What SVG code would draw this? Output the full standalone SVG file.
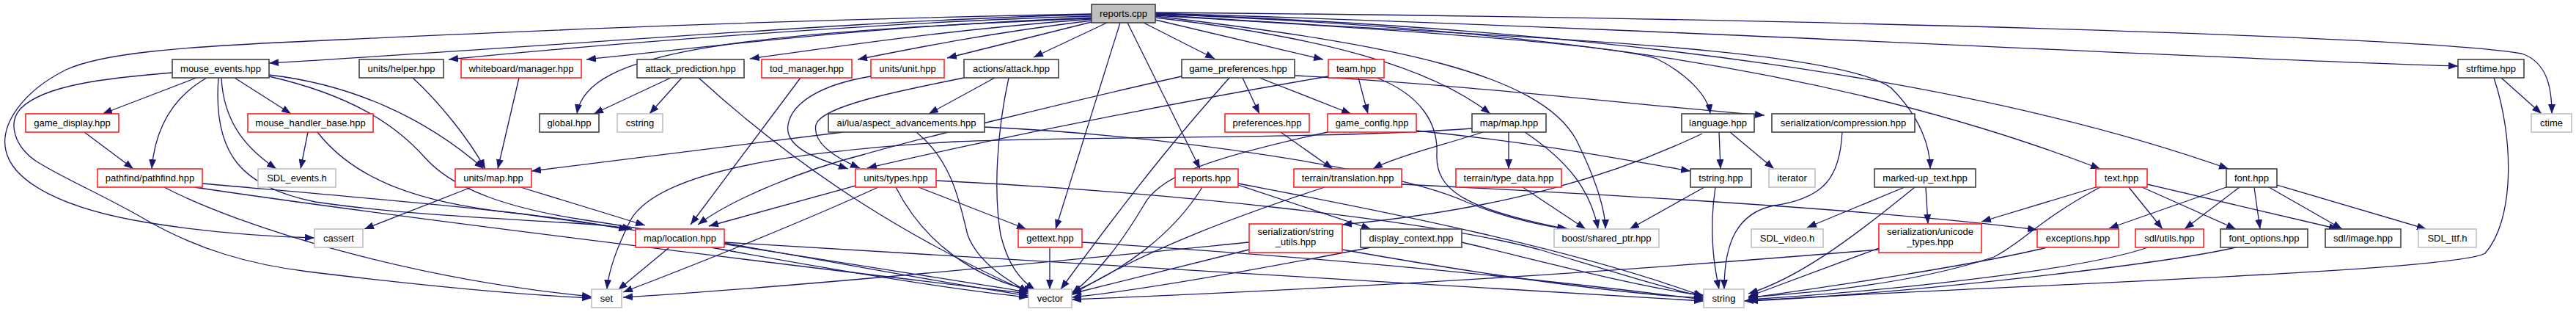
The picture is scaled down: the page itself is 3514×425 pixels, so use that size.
<svg xmlns="http://www.w3.org/2000/svg" width="3514" height="425" viewBox="0 0 3514 425">
<style>
.e{fill:none;stroke:#191970;stroke-width:1.3;marker-end:url(#a)}
.n rect{fill:#fff;stroke:#404040;stroke-width:1.6}
.n.r rect{stroke:#ff2020}
.n.g rect{stroke:#c0c0c0}
.n.root rect{fill:#bfbfbf}
.n text{font-family:"Liberation Sans",Arial,sans-serif;font-size:13px;text-anchor:middle;fill:#000}
</style>
<defs>
<marker id="a" viewBox="0 0 10 10" refX="10" refY="5" markerWidth="13" markerHeight="10" markerUnits="userSpaceOnUse" orient="auto" preserveAspectRatio="none"><path d="M0,0 L10,5 L0,10 z" fill="#191970"/></marker>
</defs>
<rect width="3514" height="425" fill="#fff"/>
<g id="edges">
<path class="e" d="M1489,20 C1200,26 800,60 367,86"/>
<path class="e" d="M1489,22 C1200,30 800,62 612,81"/>
<path class="e" d="M1489,24 C1200,35 1000,60 800,81"/>
<path class="e" d="M1489,26 C1300,40 1150,62 1023,80"/>
<path class="e" d="M1489,28 C1350,45 1250,65 1170,81"/>
<path class="e" d="M1489,30 L1292,79"/>
<path class="e" d="M1510,31 L1410,78"/>
<path class="e" d="M1489,25 C1000,45 800,70 787,155"/>
<path class="e" d="M1489,19 C1000,28 600,48 400,57 C250,64 140,72 90,95 C30,125 0,170 8,205 C18,250 90,285 200,303 C280,316 360,322 429,324"/>
<path class="e" d="M235,99 C150,106 60,115 28,148 C10,168 20,200 50,220 C90,245 140,265 200,300 C270,340 340,360 420,370 C600,392 720,402 807,406"/>
<path class="e" d="M268,106 L140,155"/>
<path class="e" d="M282,106 C240,130 212,170 207,230"/>
<path class="e" d="M302,106 C305,170 340,205 377,230"/>
<path class="e" d="M320,106 L397,155"/>
<path class="e" d="M367,102 C480,115 580,160 660,230"/>
<path class="e" d="M367,104 C480,130 540,170 580,215 C620,260 700,285 800,300 C1000,330 1250,380 1403,403"/>
<path class="e" d="M298,106 C290,210 330,255 430,275 C600,300 800,300 862,312"/>
<path class="e" d="M276,250 C500,270 750,290 857,313"/>
<path class="e" d="M265,255 C500,290 900,340 1403,400"/>
<path class="e" d="M224,255 C330,310 560,380 807,404"/>
<path class="e" d="M115,180 L182,230"/>
<path class="e" d="M420,180 L410,230"/>
<path class="e" d="M433,180 C480,240 560,275 700,290 C800,302 1100,350 1403,398"/>
<path class="e" d="M563,106 C600,140 640,190 662,230"/>
<path class="e" d="M708,106 L679,230"/>
<path class="e" d="M643,255 L497,312"/>
<path class="e" d="M710,255 L880,307"/>
<path class="e" d="M1150,180 L725,233"/>
<path class="e" d="M915,106 L810,155"/>
<path class="e" d="M930,106 L886,155"/>
<path class="e" d="M953,106 C1100,240 1250,330 1403,398"/>
<path class="e" d="M1092,106 L942,306"/>
<path class="e" d="M1188,104 C1120,115 1080,140 1075,170 C1070,200 1110,215 1157,230"/>
<path class="e" d="M1357,106 L1267,155"/>
<path class="e" d="M1315,106 C1220,125 1120,145 1113,170 C1108,195 1140,215 1173,229"/>
<path class="e" d="M1376,106 C1360,180 1355,260 1365,320 C1375,360 1390,380 1412,395"/>
<path class="e" d="M1250,180 C1300,220 1310,280 1320,320 C1335,360 1380,385 1403,398"/>
<path class="e" d="M1343,173 C1600,185 1900,230 2000,275 C2060,300 2120,310 2140,312"/>
<path class="e" d="M2008,175 C1800,190 1500,185 1303,193 C1100,205 900,230 860,300 C840,340 830,370 828,394"/>
<path class="e" d="M1167,253 L967,308"/>
<path class="e" d="M1198,255 C1100,300 950,360 850,398"/>
<path class="e" d="M1222,255 C1260,330 1330,380 1410,396"/>
<path class="e" d="M1253,255 L1400,312"/>
<path class="e" d="M1277,246 C1600,262 1950,300 2100,340 C2200,370 2280,395 2324,404"/>
<path class="e" d="M1612,104 C1450,140 1250,190 1180,210 C1100,230 1000,270 952,306"/>
<path class="e" d="M1677,106 C1620,170 1560,240 1447,394"/>
<path class="e" d="M1695,106 L1718,155"/>
<path class="e" d="M1718,106 L1843,155"/>
<path class="e" d="M1766,103 C2000,115 2250,145 2407,157"/>
<path class="e" d="M1812,104 C1600,140 1350,190 1183,229"/>
<path class="e" d="M1853,106 L1866,155"/>
<path class="e" d="M1878,106 C1940,130 1962,170 1960,210 C1958,260 2000,285 2137,312"/>
<path class="e" d="M1432,337 L1432,394"/>
<path class="e" d="M1476,330 C1800,350 2100,380 2324,408"/>
<path class="e" d="M1538,31 L1637,230"/>
<path class="e" d="M1528,31 L1440,312"/>
<path class="e" d="M1560,31 L1657,80"/>
<path class="e" d="M1576,27 L1805,81"/>
<path class="e" d="M1576,24 C1800,50 1950,90 2033,155"/>
<path class="e" d="M1576,22 C1900,60 2100,100 2150,190 C2180,250 2190,290 2190,312"/>
<path class="e" d="M1576,21 C1900,40 2200,60 2260,80 C2300,100 2330,130 2333,155"/>
<path class="e" d="M1576,20 C2000,50 2500,60 2580,120 C2620,160 2633,200 2633,230"/>
<path class="e" d="M1576,19 C2100,40 2500,90 2865,230"/>
<path class="e" d="M1576,19 C2200,40 2700,110 3040,230"/>
<path class="e" d="M1576,18 C2300,40 3000,80 3353,90"/>
<path class="e" d="M1576,17 C2500,25 3300,50 3440,73 C3475,85 3481,120 3481,155"/>
<path class="e" d="M3412,106 L3467,155"/>
<path class="e" d="M3402,106 C3430,190 3430,300 3390,345 C3350,370 2700,390 2379,410"/>
<path class="e" d="M1747,180 L1818,230"/>
<path class="e" d="M2023,180 C1960,200 1900,215 1873,230"/>
<path class="e" d="M1932,178 C2100,195 2200,215 2306,233"/>
<path class="e" d="M1811,180 C1650,215 1580,240 1560,280 C1530,330 1500,370 1462,400"/>
<path class="e" d="M2058,180 L2058,230"/>
<path class="e" d="M2080,180 C2140,220 2170,260 2180,312"/>
<path class="e" d="M1807,255 C1700,290 1560,340 1462,402"/>
<path class="e" d="M1912,251 C2300,270 2600,290 2779,313"/>
<path class="e" d="M2077,255 L2163,312"/>
<path class="e" d="M2345,180 L2347,230"/>
<path class="e" d="M2360,180 L2420,230"/>
<path class="e" d="M2322,182 C2200,240 2050,285 1831,306"/>
<path class="e" d="M2325,255 L2223,312"/>
<path class="e" d="M2340,255 C2330,320 2340,370 2345,394"/>
<path class="e" d="M2513,180 C2510,240 2490,270 2420,280 C2370,290 2352,330 2352,394"/>
<path class="e" d="M2598,255 L2465,310"/>
<path class="e" d="M2612,255 C2520,330 2450,380 2385,400"/>
<path class="e" d="M2627,255 L2630,305"/>
<path class="e" d="M2859,255 L2703,302"/>
<path class="e" d="M2865,255 C2780,300 2760,330 2720,350 C2600,390 2450,400 2385,405"/>
<path class="e" d="M2904,255 L2950,312"/>
<path class="e" d="M2922,255 L3050,312"/>
<path class="e" d="M2929,251 L3190,312"/>
<path class="e" d="M3037,255 L2877,311"/>
<path class="e" d="M3055,255 L2980,312"/>
<path class="e" d="M3075,255 L3083,312"/>
<path class="e" d="M3095,255 L3195,312"/>
<path class="e" d="M3106,252 L3310,312"/>
<path class="e" d="M2563,338 L2385,404"/>
<path class="e" d="M2563,340 C2200,370 1900,390 1462,408"/>
<path class="e" d="M2792,337 C2700,360 2500,390 2385,406"/>
<path class="e" d="M2930,337 C2850,365 2600,395 2385,408"/>
<path class="e" d="M3050,337 C2950,360 2600,400 2385,410"/>
<path class="e" d="M1704,330 C1500,350 1100,390 850,405"/>
<path class="e" d="M1704,340 C1600,365 1500,390 1462,400"/>
<path class="e" d="M1831,340 C2000,370 2200,400 2324,406"/>
<path class="e" d="M1870,337 C1700,370 1560,395 1462,405"/>
<path class="e" d="M1994,330 C2100,355 2250,395 2324,402"/>
<path class="e" d="M1640,255 C1600,320 1530,370 1462,398"/>
<path class="e" d="M1689,252 L1870,312"/>
<path class="e" d="M1689,250 C1900,290 2150,340 2324,404"/>
<path class="e" d="M913,337 L843,395"/>
<path class="e" d="M970,337 C1150,370 1300,395 1403,405"/>
<path class="e" d="M988,330 C1500,360 2000,390 2324,410"/>
</g>
<g id="node-reports_cpp" class="n root"><rect x="1489" y="6" width="87" height="25"/><text x="1532.5" y="23">reports.cpp</text></g>
<g id="node-mouse_events" class="n"><rect x="235" y="81" width="132" height="25"/><text x="301" y="98">mouse_events.hpp</text></g>
<g id="node-units_helper" class="n"><rect x="490" y="81" width="115" height="25"/><text x="547.5" y="98">units/helper.hpp</text></g>
<g id="node-whiteboard_manager" class="n r"><rect x="629" y="81" width="164" height="25"/><text x="711" y="98">whiteboard/manager.hpp</text></g>
<g id="node-attack_prediction" class="n"><rect x="869" y="81" width="146" height="25"/><text x="942" y="98">attack_prediction.hpp</text></g>
<g id="node-tod_manager" class="n r"><rect x="1039" y="81" width="123" height="25"/><text x="1100.5" y="98">tod_manager.hpp</text></g>
<g id="node-units_unit" class="n r"><rect x="1188" y="81" width="100" height="25"/><text x="1238" y="98">units/unit.hpp</text></g>
<g id="node-actions_attack" class="n"><rect x="1315" y="81" width="129" height="25"/><text x="1379.5" y="98">actions/attack.hpp</text></g>
<g id="node-game_preferences" class="n"><rect x="1612" y="81" width="154" height="25"/><text x="1689" y="98">game_preferences.hpp</text></g>
<g id="node-team" class="n r"><rect x="1812" y="81" width="76" height="25"/><text x="1850" y="98">team.hpp</text></g>
<g id="node-strftime" class="n"><rect x="3353" y="81" width="90" height="25"/><text x="3398" y="98">strftime.hpp</text></g>
<g id="node-game_display" class="n r"><rect x="35" y="155" width="127" height="25"/><text x="98.5" y="172">game_display.hpp</text></g>
<g id="node-mouse_handler_base" class="n r"><rect x="338" y="155" width="171" height="25"/><text x="423.5" y="172">mouse_handler_base.hpp</text></g>
<g id="node-global" class="n"><rect x="736" y="155" width="81" height="25"/><text x="776.5" y="172">global.hpp</text></g>
<g id="node-cstring" class="n g"><rect x="842" y="155" width="62" height="25"/><text x="873" y="172">cstring</text></g>
<g id="node-aspect_advancements" class="n"><rect x="1130" y="155" width="213" height="25"/><text x="1236.5" y="172">ai/lua/aspect_advancements.hpp</text></g>
<g id="node-preferences" class="n r"><rect x="1671" y="155" width="115" height="25"/><text x="1728.5" y="172">preferences.hpp</text></g>
<g id="node-game_config" class="n r"><rect x="1811" y="155" width="121" height="25"/><text x="1871.5" y="172">game_config.hpp</text></g>
<g id="node-map_map" class="n"><rect x="2008" y="155" width="101" height="25"/><text x="2058.5" y="172">map/map.hpp</text></g>
<g id="node-language" class="n"><rect x="2294" y="155" width="99" height="25"/><text x="2343.5" y="172">language.hpp</text></g>
<g id="node-compression" class="n"><rect x="2417" y="155" width="195" height="25"/><text x="2514.5" y="172">serialization/compression.hpp</text></g>
<g id="node-ctime" class="n g"><rect x="3453" y="155" width="55" height="25"/><text x="3480.5" y="172">ctime</text></g>
<g id="node-pathfind" class="n r"><rect x="133" y="230" width="143" height="25"/><text x="204.5" y="247">pathfind/pathfind.hpp</text></g>
<g id="node-SDL_events" class="n g"><rect x="352" y="230" width="106" height="25"/><text x="405" y="247">SDL_events.h</text></g>
<g id="node-units_map" class="n r"><rect x="621" y="230" width="104" height="25"/><text x="673" y="247">units/map.hpp</text></g>
<g id="node-units_types" class="n r"><rect x="1167" y="230" width="110" height="25"/><text x="1222" y="247">units/types.hpp</text></g>
<g id="node-reports_hpp" class="n r"><rect x="1603" y="230" width="86" height="25"/><text x="1646" y="247">reports.hpp</text></g>
<g id="node-terrain_translation" class="n r"><rect x="1765" y="230" width="147" height="25"/><text x="1838.5" y="247">terrain/translation.hpp</text></g>
<g id="node-terrain_type_data" class="n r"><rect x="1986" y="230" width="144" height="25"/><text x="2058" y="247">terrain/type_data.hpp</text></g>
<g id="node-tstring" class="n"><rect x="2306" y="230" width="83" height="25"/><text x="2347.5" y="247">tstring.hpp</text></g>
<g id="node-iterator" class="n g"><rect x="2413" y="230" width="63" height="25"/><text x="2444.5" y="247">iterator</text></g>
<g id="node-marked_up_text" class="n"><rect x="2557" y="230" width="138" height="25"/><text x="2626" y="247">marked-up_text.hpp</text></g>
<g id="node-text" class="n r"><rect x="2859" y="230" width="70" height="25"/><text x="2894" y="247">text.hpp</text></g>
<g id="node-font" class="n"><rect x="3037" y="230" width="69" height="25"/><text x="3071.5" y="247">font.hpp</text></g>
<g id="node-cassert" class="n g"><rect x="429" y="312" width="66" height="25"/><text x="462" y="329">cassert</text></g>
<g id="node-map_location" class="n r"><rect x="867" y="312" width="121" height="25"/><text x="927.5" y="329">map/location.hpp</text></g>
<g id="node-gettext" class="n r"><rect x="1389" y="312" width="87" height="25"/><text x="1432.5" y="329">gettext.hpp</text></g>
<g id="node-string_utils" class="n r"><rect x="1704" y="305" width="127" height="39"/><text x="1767.5" y="320">serialization/string</text><text x="1767.5" y="334">_utils.hpp</text></g>
<g id="node-display_context" class="n"><rect x="1856" y="312" width="138" height="25"/><text x="1925" y="329">display_context.hpp</text></g>
<g id="node-shared_ptr" class="n g"><rect x="2120" y="312" width="143" height="25"/><text x="2191.5" y="329">boost/shared_ptr.hpp</text></g>
<g id="node-SDL_video" class="n g"><rect x="2389" y="312" width="98" height="25"/><text x="2438" y="329">SDL_video.h</text></g>
<g id="node-unicode_types" class="n r"><rect x="2563" y="305" width="140" height="39"/><text x="2633" y="320">serialization/unicode</text><text x="2633" y="334">_types.hpp</text></g>
<g id="node-exceptions" class="n r"><rect x="2779" y="312" width="111" height="25"/><text x="2834.5" y="329">exceptions.hpp</text></g>
<g id="node-sdl_utils" class="n r"><rect x="2913" y="312" width="93" height="25"/><text x="2959.5" y="329">sdl/utils.hpp</text></g>
<g id="node-font_options" class="n"><rect x="3029" y="312" width="119" height="25"/><text x="3088.5" y="329">font_options.hpp</text></g>
<g id="node-sdl_image" class="n"><rect x="3172" y="312" width="103" height="25"/><text x="3223.5" y="329">sdl/image.hpp</text></g>
<g id="node-SDL_ttf" class="n g"><rect x="3299" y="312" width="79" height="25"/><text x="3338.5" y="329">SDL_ttf.h</text></g>
<g id="node-set" class="n g"><rect x="807" y="394" width="41" height="25"/><text x="827.5" y="411">set</text></g>
<g id="node-vector" class="n g"><rect x="1403" y="394" width="59" height="25"/><text x="1432.5" y="411">vector</text></g>
<g id="node-string" class="n g"><rect x="2324" y="394" width="55" height="25"/><text x="2351.5" y="411">string</text></g>
</svg>
